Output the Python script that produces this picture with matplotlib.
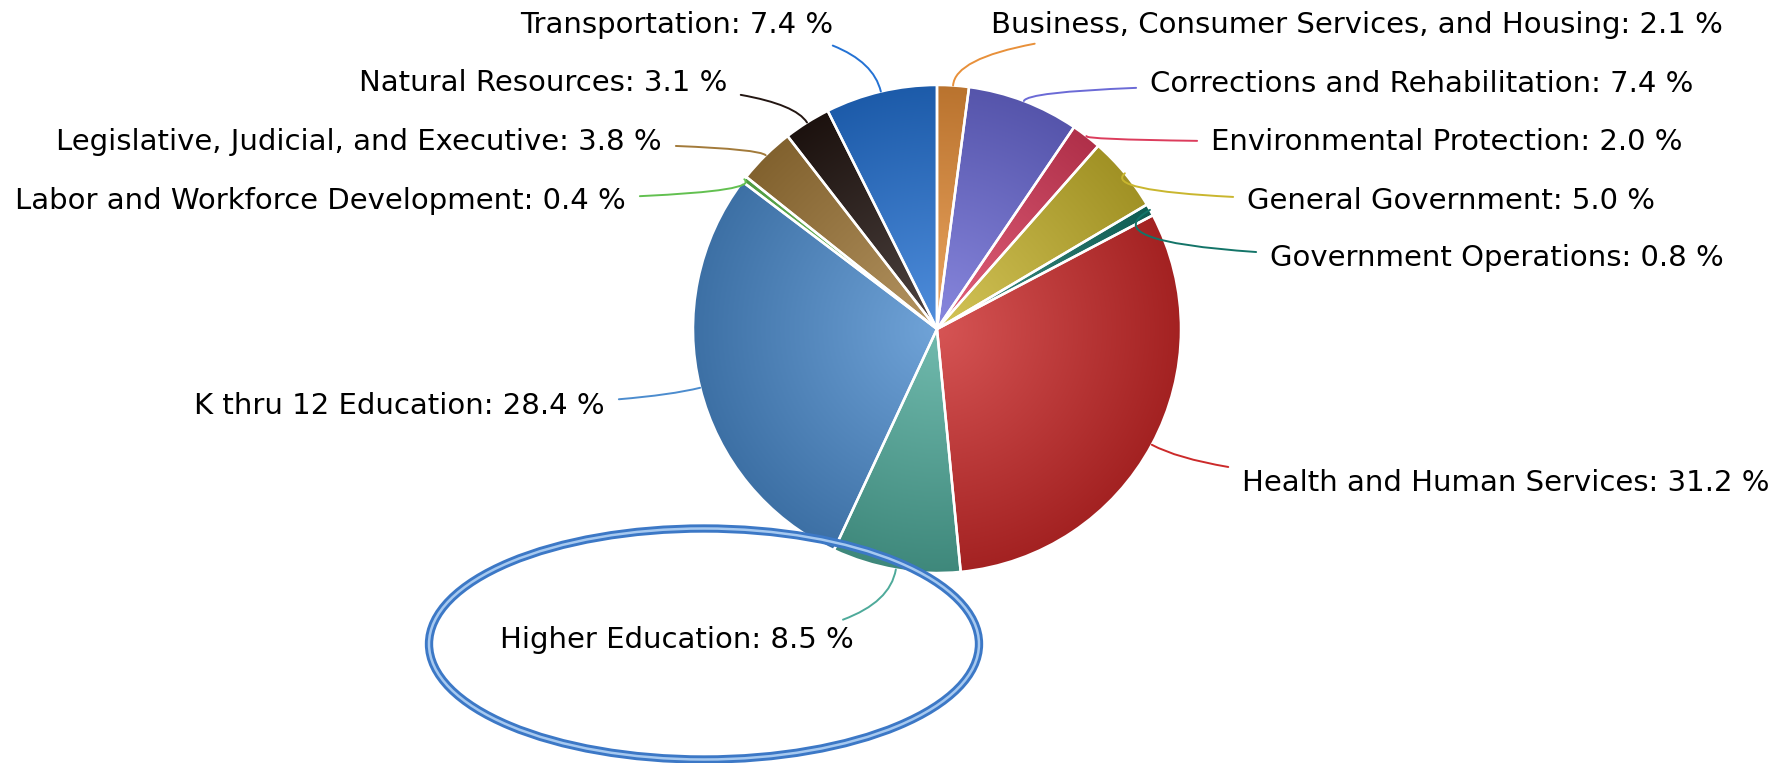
import matplotlib
matplotlib.use('Agg')
import matplotlib.pyplot as plt
import numpy as np
from matplotlib.patches import Ellipse
from matplotlib.colors import to_rgb

W, H = 1781, 763

# data, clockwise from 12 o'clock
categories = ['Business, Consumer Services, and Housing', 'Corrections and Rehabilitation',
              'Environmental Protection', 'General Government', 'Government Operations',
              'Health and Human Services', 'Higher Education', 'K thru 12 Education',
              'Labor and Workforce Development', 'Legislative, Judicial, and Executive',
              'Natural Resources', 'Transportation']
shares = [2.1, 7.4, 2.0, 5.0, 0.8, 31.2, 8.5, 28.4, 0.4, 3.8, 3.1, 7.4]
colors = ['#e8903a', '#6b6ad6', '#dc3c5c', '#c9b62e', '#137468', '#cc2a2a',
          '#4eaa9a', '#4c8cce', '#62c050', '#a27a3a', '#231612', '#2472d4']

# label anchor (pixel coords from top-left) and alignment
label_pos = [(991, 25, 'left'), (1150, 84, 'left'), (1211, 142, 'left'), (1247, 201, 'left'),
             (1270, 258, 'left'), (1242, 483, 'left'), (854, 640, 'right'), (605, 406, 'right'),
             (626, 201, 'right'), (662, 142, 'right'), (727, 83, 'right'), (833, 25, 'right')]

fig = plt.figure(figsize=(W / 100, H / 100), dpi=100)
ax = fig.add_axes([0, 0, 1, 1])

cx, cy, r = 937, H - 329, 244
wedges, _ = ax.pie(shares, colors=colors, startangle=90, counterclock=False,
                   center=(cx, cy), radius=r, frame=True,
                   wedgeprops=dict(edgecolor='white', linewidth=1.8))
ax.set_xlim(0, W)
ax.set_ylim(0, H)
ax.set_aspect('equal')
ax.axis('off')

# radial shading: lighter at the centre, darker at the rim
n = 400
yy, xx = np.mgrid[cy - r:cy + r:n * 1j, cx - r:cx + r:n * 1j]
t = np.clip(np.hypot(xx - cx, yy - cy) / r, 0, 1)[..., None]
for w, c in zip(wedges, colors):
    base = np.array(to_rgb(c))
    light = base + (1 - base) * 0.2
    dark = base * 0.8
    img = light * (1 - t) + dark * t
    im = ax.imshow(img, extent=(cx - r, cx + r, cy - r, cy + r), origin='lower',
                   zorder=2, interpolation='bilinear')
    im.set_clip_path(w)
    w.set_facecolor('none')
    w.set_zorder(3)

# labels with curved leader lines
cum = np.cumsum([0] + shares[:-1])
for name, val, c, start, (lx, ly, ha) in zip(categories, shares, colors, cum, label_pos):
    ang = np.deg2rad(90 - (start + val / 2) / sum(shares) * 360)
    px, py = cx + r * np.cos(ang), cy + r * np.sin(ang)
    ax.annotate(f'{name}: {val:.1f} %', xy=(px, py), xytext=(lx, H - ly),
                ha=ha, va='center', fontsize=21, color='black', zorder=6,
                arrowprops=dict(arrowstyle='-', color=c, lw=1.4, shrinkA=8, shrinkB=0,
                                connectionstyle=f'angle3,angleA=0,angleB={np.rad2deg(ang):.1f}'))

# highlight ring around Higher Education
ax.add_patch(Ellipse((704, H - 644), 550, 231, fill=False, edgecolor='#3c78c6', lw=6, zorder=5))
ax.add_patch(Ellipse((704, H - 644), 550, 231, fill=False, edgecolor='#a6c9f0', lw=1.8, zorder=5))

fig.savefig('out.png', dpi=100)
